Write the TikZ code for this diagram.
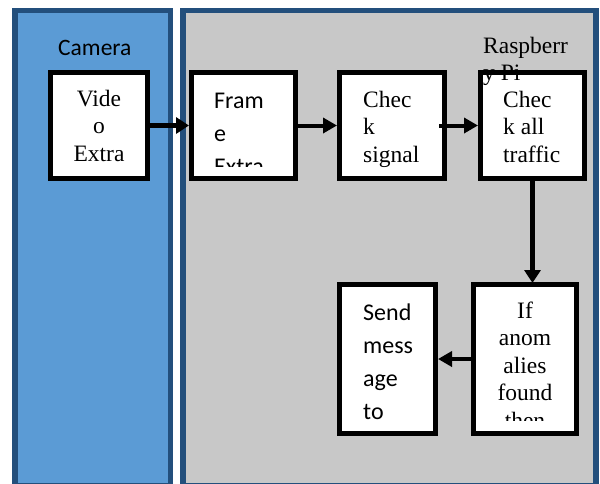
\documentclass[tikz,border=0pt]{standalone}
\usepackage{fontspec}
\setmainfont{Liberation Serif}
\newfontfamily\calibrifont{Carlito}
\usetikzlibrary{arrows.meta}
\definecolor{camblue}{HTML}{5B9BD5}
\definecolor{panelborder}{HTML}{234F7C}
\definecolor{panelgray}{HTML}{C8C8C8}
\tikzset{
  panel/.style={line width=5.5pt},
  blockbox/.style={draw=black, fill=white, line width=5pt, inner sep=0pt},
  flow/.style={line width=5pt, -{Triangle[length=13pt,width=16pt]}},
  thinflow/.style={line width=4pt, -{Triangle[length=14pt,width=15pt]}},
  timestext/.style={font=\fontsize{23.5}{27.5}\selectfont, inner sep=0pt},
  calitext/.style={font=\calibrifont\fontsize{24}{33}\selectfont, inner sep=0pt},
}
\begin{document}
\begin{tikzpicture}[x=1pt,y=-1pt]
\useasboundingbox (0,0) rectangle (600,483);
\fill[white] (0,0) rectangle (600,483);
% panels
\draw[panel, draw=panelborder, fill=camblue] (14.8,10.5) rectangle (170.5,486);
\draw[panel, draw=panelborder, fill=panelgray] (183,10.5) rectangle (596,486);
% boxes
\node[blockbox, minimum width=97pt, minimum height=106pt] (video) at (99,125.5) {};
\node[blockbox, minimum width=104pt, minimum height=106pt] (frame) at (243.5,125.5) {};
\node[blockbox, minimum width=105pt, minimum height=106pt] (sig) at (392,125.5) {};
\node[blockbox, minimum width=104pt, minimum height=106pt] (traffic) at (532.5,125.5) {};
\node[blockbox, minimum width=96pt, minimum height=149pt] (send) at (387.5,359) {};
\node[blockbox, minimum width=103pt, minimum height=149pt] (anom) at (525,359) {};
% texts
\node[calitext, anchor=base west, font=\calibrifont\fontsize{23.5}{33}\selectfont] (camlabel) at (58,55) {Camera};
\node[timestext, anchor=base] (videotext) at (99,106) {\parbox[t]{90pt}{\centering Vide\\o\\Extra}};
\begin{scope}
\clip (194,75) rectangle (293,166);
\node[calitext, anchor=base west] (frametext) at (214,108) {\parbox[t]{80pt}{Fram\\e\\Extra}};
\end{scope}
\node[timestext, anchor=base west] (sigtext) at (363,107) {\parbox[t]{80pt}{Chec\\k\\signal}};
\node[timestext, anchor=base west] (traffictext) at (503,107) {\parbox[t]{80pt}{Chec\\k all\\traffic}};
\node[calitext, anchor=base west] (sendtext) at (363,320) {\parbox[t]{80pt}{Send\\mess\\age\\to}};
\begin{scope}
\clip (476,287) rectangle (574,420);
\node[timestext, anchor=base] (anomtext) at (525,318) {\parbox[t]{90pt}{\centering If\\anom\\alies\\found\\then}};
\end{scope}
\node[timestext, anchor=base west] (rasp) at (483,53) {\parbox[t]{100pt}{Raspberr\\y Pi}};
% connectors
\draw[flow] (video.east) -- (frame.west);
\draw[thinflow] (frame.east) -- (sig.west);
\draw[thinflow] ([xshift=-8pt]sig.east) -- (traffic.west);
\draw[flow] (traffic.south) -- ([yshift=-1pt]traffic.south |- anom.north);
\draw[thinflow] (anom.west) -- (send.east);
\end{tikzpicture}
\end{document}
